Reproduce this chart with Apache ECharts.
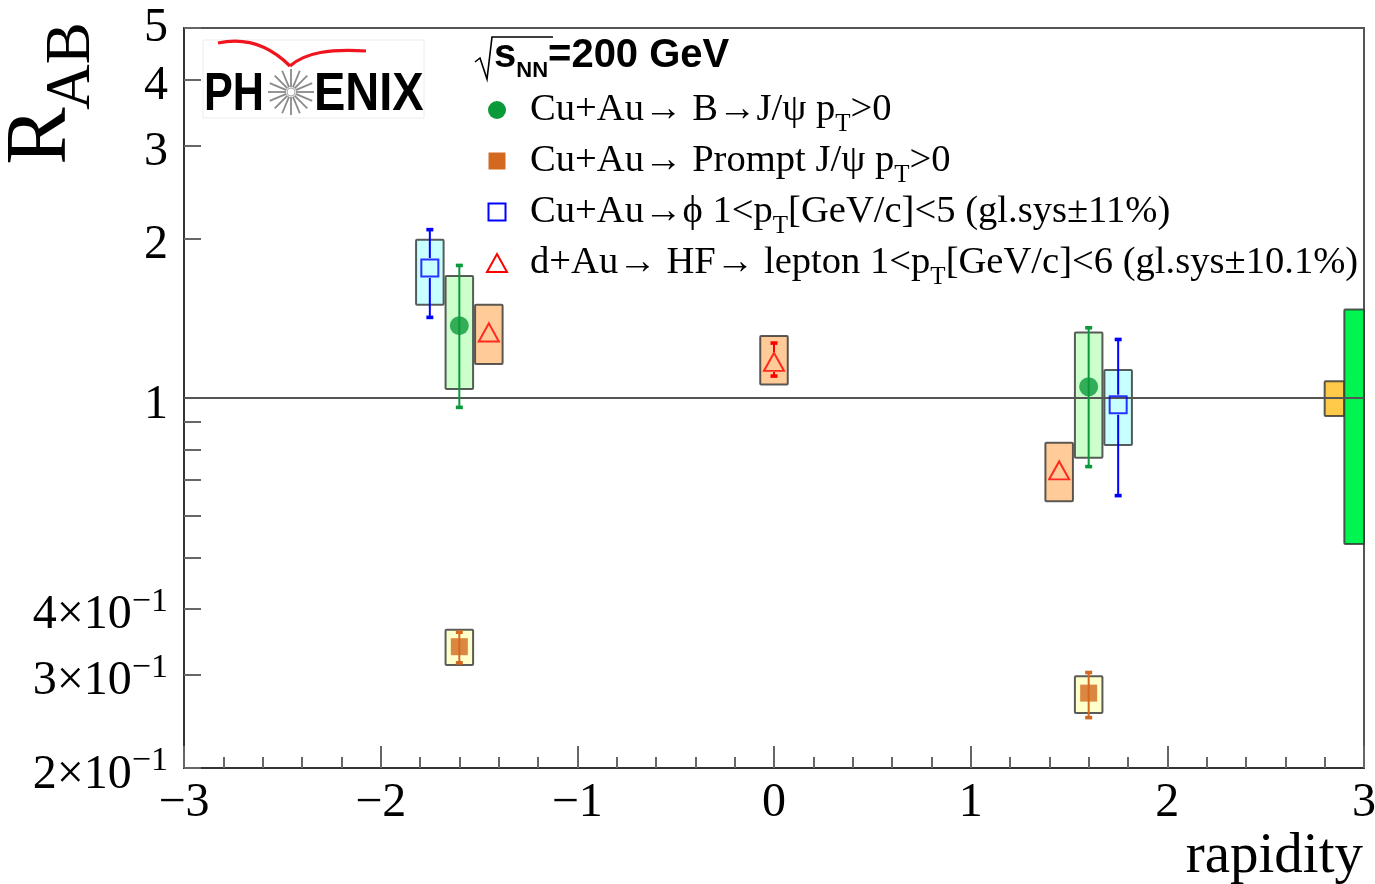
<!DOCTYPE html>
<html>
<head>
<meta charset="utf-8">
<script src="https://cdn.jsdelivr.net/npm/echarts@6/dist/echarts.min.js"></script>
<style>
  html, body { margin: 0; padding: 0; background: #fff; }
  #chart { width: 1375px; height: 884px; }
</style>
</head>
<body>
<div id="chart"></div>
<script>
// ---- Data: nuclear modification factor R_AB versus rapidity ----

// Cu+Au -> B -> J/psi, pT > 0
const bjpsiRapidity = [-1.6, 1.6];
const bjpsiRAB      = [1.37, 1.05];
const bjpsiStatLow  = [0.96, 0.742];
const bjpsiStatHigh = [1.78, 1.357];
const bjpsiSysLow   = [1.04, 0.771];
const bjpsiSysHigh  = [1.70, 1.33];

// Cu+Au -> prompt J/psi, pT > 0
const promptRapidity = [-1.6, 1.6];
const promptRAB      = [0.339, 0.277];
const promptStatLow  = [0.316, 0.249];
const promptStatHigh = [0.361, 0.303];
const promptSysLow   = [0.313, 0.254];
const promptSysHigh  = [0.365, 0.298];

// Cu+Au -> phi, 1 < pT < 5 GeV/c
const phiRapidity = [-1.75, 1.75];
const phiRAB      = [1.76, 0.971];
const phiStatLow  = [1.42, 0.654];
const phiStatHigh = [2.08, 1.29];
const phiSysLow   = [1.50, 0.815];
const phiSysHigh  = [1.99, 1.129];

// d+Au -> heavy flavour -> lepton, 1 < pT < 6 GeV/c
const hfRapidity = [-1.45, 0, 1.45];
const hfRAB      = [1.33, 1.17, 0.73];
const hfStatLow  = [1.31, 1.10, 0.715];
const hfStatHigh = [1.35, 1.27, 0.745];
const hfSysLow   = [1.16, 1.06, 0.638];
const hfSysHigh  = [1.50, 1.31, 0.823];

// Global normalisation uncertainties drawn at the right edge
const globalSysRapidityLow  = [2.8, 2.9];
const globalSysRapidityHigh = [2.9, 3.0];
const globalSysLow          = [0.925, 0.53];
const globalSysHigh         = [1.075, 1.47];

// Reference line R_AB = 1
const unityRapidity = [-3, 3];
const unityRAB      = [1, 1];

// Axis ticks and labels
const Y_MIN = 0.2, Y_MAX = 5;
const yTickValues  = [0.2, 0.3, 0.4, 0.5, 0.6, 0.7, 0.8, 0.9, 1, 2, 3, 4, 5];
const yLabelValues = [0.2, 0.3, 0.4, 1, 2, 3, 4, 5];
const yLabelMain   = ['2×10', '3×10', '4×10', '1', '2', '3', '4', '5'];
const yLabelExp    = ['−1', '−1', '−1', '', '', '', '', ''];

// ---- Drawing ----
const SERIF = "'Liberation Serif', 'Times New Roman', serif";
const SANS = "'Liberation Sans', Arial, sans-serif";
const SYS_HALF_WIDTH = 0.07;   // half width of the systematic boxes, in rapidity units

const COLORS = {
  bjpsi: '#0a9a3a',
  prompt: '#d2691e',
  phi: '#0000ff',
  hf: '#ff0000'
};

function zipRows() {
  const cols = Array.prototype.slice.call(arguments);
  return cols[0].map((_, i) => cols.map(c => c[i]));
}

// keep edge ticks inside the floating-point axis extent
function insideExtent(v) {
  return Math.min(Math.max(v, Y_MIN * 1.000001), Y_MAX * 0.999999);
}

function sysBoxSeries(xs, lows, highs, fill) {
  return {
    type: 'custom',
    z: 2,
    silent: true,
    clip: false,
    encode: { x: 0, y: [1, 2] },
    data: zipRows(xs, lows, highs),
    renderItem: function (params, api) {
      const x = api.value(0);
      const p1 = api.coord([x - SYS_HALF_WIDTH, api.value(2)]);
      const p2 = api.coord([x + SYS_HALF_WIDTH, api.value(1)]);
      return {
        type: 'rect',
        shape: { x: p1[0], y: p1[1], width: p2[0] - p1[0], height: p2[1] - p1[1], r: 1 },
        style: { fill: fill, stroke: 'rgba(50,50,50,0.8)', lineWidth: 2 }
      };
    }
  };
}

function errorBarSeries(xs, ys, lows, highs, color, gap) {
  return {
    type: 'custom',
    z: 4,
    silent: true,
    clip: false,
    encode: { x: 0, y: [1, 2, 3] },
    data: zipRows(xs, ys, lows, highs),
    renderItem: function (params, api) {
      const x = api.value(0);
      const c = api.coord([x, api.value(1)]);
      const lo = api.coord([x, api.value(2)]);
      const hi = api.coord([x, api.value(3)]);
      const kids = [];
      const capW = 3.5, capH = 1.8;
      if (hi[1] < c[1] - gap) {
        kids.push({ type: 'line', shape: { x1: c[0], y1: hi[1], x2: c[0], y2: c[1] - gap },
                    style: { stroke: color, lineWidth: 2 } });
        kids.push({ type: 'rect', shape: { x: c[0] - capW, y: hi[1] - capH, width: 2 * capW, height: 2 * capH },
                    style: { fill: color } });
      }
      if (lo[1] > c[1] + gap) {
        kids.push({ type: 'line', shape: { x1: c[0], y1: c[1] + gap, x2: c[0], y2: lo[1] },
                    style: { stroke: color, lineWidth: 2 } });
        kids.push({ type: 'rect', shape: { x: c[0] - capW, y: lo[1] - capH, width: 2 * capW, height: 2 * capH },
                    style: { fill: color } });
      }
      return { type: 'group', children: kids };
    }
  };
}

const globalFills = ['#ffc94a', '#00f550'];
const globalSys = {
  type: 'custom',
  z: 2,
  silent: true,
  clip: false,
  encode: { x: [0, 1], y: [2, 3] },
  data: zipRows(globalSysRapidityLow, globalSysRapidityHigh, globalSysLow, globalSysHigh),
  renderItem: function (params, api) {
    const p1 = api.coord([api.value(0), api.value(3)]);
    const p2 = api.coord([api.value(1), api.value(2)]);
    return {
      type: 'rect',
      shape: { x: p1[0], y: p1[1], width: p2[0] - p1[0], height: p2[1] - p1[1], r: 1 },
      style: { fill: globalFills[params.dataIndex], stroke: 'rgba(50,50,50,0.8)', lineWidth: 2 }
    };
  }
};

// y tick label: mantissa (dropped slightly) plus raised exponent; the tiny
// 'z' token only sets the line box height so the two can be offset.
// The top label sits flush with the frame, so it gets no drop.
function yLabel(v) {
  let idx = -1;
  yLabelValues.forEach((lv, i) => { if (Math.abs(lv - v) < 1e-4 * lv) idx = i; });
  if (idx < 0) return '';
  const exp = yLabelExp[idx];
  const spacer = idx === yLabelValues.length - 1 ? '{zt| }' : '{z| }';
  return spacer + '{m|' + yLabelMain[idx] + '}' + (exp ? '{s|' + exp + '}' : '');
}

const tickStyle = { color: '#666', width: 2 };

// Legend text with p_T subscripts
const legendRows = [
  { pre: 'Cu+Au→ B→J/ψ p', post: '>0' },
  { pre: 'Cu+Au→ Prompt J/ψ p', post: '>0' },
  { pre: 'Cu+Au→ϕ 1<p', post: '[GeV/c]<5 (gl.sys±11%)' },
  { pre: 'd+Au→ HF→ lepton 1<p', post: '[GeV/c]<6 (gl.sys±10.1%)' }
];
const legendRowY = [110, 161, 212, 263];
const legendMarkerX = 497;
const legendTextX = 530;

const legendRich = {
  t: { fontFamily: SERIF, fontSize: 38.6, lineHeight: 52, verticalAlign: 'middle', fill: '#000' },
  u: { fontFamily: SERIF, fontSize: 25, lineHeight: 24, padding: [28, 0, 0, 0], verticalAlign: 'top', fill: '#000' }
};

const legendGraphics = [];
legendRows.forEach((row, i) => {
  legendGraphics.push({
    type: 'text',
    x: legendTextX,
    y: legendRowY[i],
    style: {
      text: '{t|' + row.pre + '}{u|T}{t|' + row.post + '}',
      rich: legendRich,
      textAlign: 'left',
      textVerticalAlign: 'middle'
    }
  });
});
legendGraphics.push(
  { type: 'circle', shape: { cx: legendMarkerX, cy: legendRowY[0], r: 9 }, style: { fill: COLORS.bjpsi } },
  { type: 'rect', shape: { x: legendMarkerX - 8.5, y: legendRowY[1] - 8.5, width: 17, height: 17 }, style: { fill: COLORS.prompt } },
  { type: 'rect', shape: { x: legendMarkerX - 8.5, y: legendRowY[2] - 8.5, width: 17, height: 17 }, style: { fill: 'none', stroke: COLORS.phi, lineWidth: 2 } },
  { type: 'polygon', shape: { points: [[legendMarkerX, legendRowY[3] - 9], [legendMarkerX + 10, legendRowY[3] + 9], [legendMarkerX - 10, legendRowY[3] + 9]] },
    style: { fill: 'none', stroke: COLORS.hf, lineWidth: 2 } }
);

// Collision energy header: radical sign with overline, then text
const headerGraphics = [
  { type: 'polyline', shape: { points: [[475, 62], [480, 58], [487, 79], [492, 37], [553, 37]] },
    style: { stroke: '#000', lineWidth: 1.6, fill: null } },
  { type: 'text', x: 494, y: 56,
    style: {
      text: '{b|s}{n|NN}{b|=200 GeV}',
      textAlign: 'left', textVerticalAlign: 'middle',
      rich: {
        b: { fontFamily: SANS, fontWeight: 'bold', fontSize: 40, lineHeight: 46, verticalAlign: 'middle', fill: '#000' },
        n: { fontFamily: SANS, fontWeight: 'bold', fontSize: 22, lineHeight: 22, padding: [27, 0, 0, 0], verticalAlign: 'top', fill: '#000' }
      }
    } }
];

// Experiment logo
const starCx = 291, starCy = 92;
const starRays = [];
for (let k = 0; k < 16; k++) {
  const a = k * Math.PI / 8;
  starRays.push({ type: 'line',
    shape: { x1: starCx + 5 * Math.cos(a), y1: starCy + 5 * Math.sin(a), x2: starCx + 23 * Math.cos(a), y2: starCy + 23 * Math.sin(a) },
    style: { stroke: '#8a8a8a', lineWidth: 1.8 } });
}
const logoGraphics = [
  { type: 'rect', shape: { x: 203, y: 40, width: 221, height: 78 }, style: { fill: '#fff', stroke: '#ececec', lineWidth: 1 } },
  { type: 'bezierCurve', shape: { x1: 218, y1: 43, cpx1: 250, cpy1: 36, cpx2: 274, cpy2: 50, x2: 290, y2: 66 },
    style: { stroke: '#f0141e', lineWidth: 3.2, fill: null } },
  { type: 'bezierCurve', shape: { x1: 290, y1: 66, cpx1: 306, cpy1: 52, cpx2: 330, cpy2: 49, x2: 366, y2: 51 },
    style: { stroke: '#f0141e', lineWidth: 3.2, fill: null } },
  { type: 'text', x: 204, y: 95, scaleX: 0.8,
    style: { text: 'PH', font: 'bold 54px ' + SANS, fill: '#000', textAlign: 'left', textVerticalAlign: 'middle' } },
  { type: 'text', x: 314, y: 95, scaleX: 0.87,
    style: { text: 'ENIX', font: 'bold 54px ' + SANS, fill: '#000', textAlign: 'left', textVerticalAlign: 'middle' } },
  { type: 'circle', shape: { cx: starCx, cy: starCy, r: 4 }, style: { fill: '#fff', stroke: '#aaa', lineWidth: 1 } }
].concat(starRays);

// Axis titles
const titleGraphics = [
  { type: 'text', x: 42, y: 136, rotation: Math.PI / 2,
    style: { text: 'R', font: '86px ' + SERIF, fill: '#000', textAlign: 'center', textVerticalAlign: 'middle' } },
  { type: 'text', x: 72, y: 66, rotation: Math.PI / 2,
    style: { text: 'AB', font: '63px ' + SERIF, fill: '#000', textAlign: 'center', textVerticalAlign: 'middle' } },
  { type: 'text', x: 1363, y: 857,
    style: { text: 'rapidity', font: '57px ' + SERIF, fill: '#000', textAlign: 'right', textVerticalAlign: 'middle' } }
];

const chart = echarts.init(document.getElementById('chart'), null, { renderer: 'canvas' });

chart.setOption({
  backgroundColor: '#fff',
  animation: false,
  grid: {
    left: 184, right: 11, top: 28, bottom: 116,
    outerBoundsMode: 'none',
    show: true, borderColor: '#555', borderWidth: 2, backgroundColor: 'transparent'
  },
  xAxis: {
    type: 'value',
    min: -3, max: 3, interval: 1,
    axisLine: { show: true, onZero: false, lineStyle: { color: '#333', width: 2 } },
    axisTick: { show: true, inside: true, length: 22, lineStyle: tickStyle },
    minorTick: { show: true, splitNumber: 5, length: 11, lineStyle: tickStyle },
    splitLine: { show: false },
    axisLabel: {
      margin: 11,
      fontFamily: SERIF, fontSize: 48, color: '#000',
      formatter: v => (v < 0 ? '−' + (-v) : String(v))
    }
  },
  yAxis: {
    type: 'log',
    logBase: 10,
    min: Y_MIN, max: Y_MAX,
    axisLine: { show: true, onZero: false, lineStyle: { color: '#333', width: 2 } },
    axisTick: { show: true, inside: true, length: 17, lineStyle: tickStyle, customValues: yTickValues.map(insideExtent) },
    minorTick: { show: false },
    splitLine: { show: false },
    axisLabel: {
      margin: 16,
      showMinLabel: true,
      showMaxLabel: true,
      hideOverlap: false,
      customValues: yLabelValues.map(insideExtent),
      formatter: yLabel,
      rich: {
        z: { fontFamily: SERIF, fontSize: 1, lineHeight: 62, color: '#000' },
        zt: { fontFamily: SERIF, fontSize: 1, lineHeight: 48, color: '#000' },
        m: { fontFamily: SERIF, fontSize: 48, lineHeight: 48, verticalAlign: 'bottom', color: '#000' },
        s: { fontFamily: SERIF, fontSize: 34, lineHeight: 34, padding: [7, 0, 0, 0], verticalAlign: 'top', color: '#000' }
      }
    }
  },
  graphic: [].concat(logoGraphics, headerGraphics, legendGraphics, titleGraphics),
  series: [
    sysBoxSeries(phiRapidity, phiSysLow, phiSysHigh, '#c8ffff'),
    sysBoxSeries(bjpsiRapidity, bjpsiSysLow, bjpsiSysHigh, '#ccffcc'),
    sysBoxSeries(hfRapidity, hfSysLow, hfSysHigh, '#ffcc99'),
    sysBoxSeries(promptRapidity, promptSysLow, promptSysHigh, '#ffffcc'),
    globalSys,
    {
      type: 'line', z: 3, silent: true, symbol: 'none',
      data: zipRows(unityRapidity, unityRAB),
      lineStyle: { color: '#555', width: 2 }
    },
    errorBarSeries(phiRapidity, phiRAB, phiStatLow, phiStatHigh, COLORS.phi, 10),
    errorBarSeries(bjpsiRapidity, bjpsiRAB, bjpsiStatLow, bjpsiStatHigh, COLORS.bjpsi, 0),
    errorBarSeries(hfRapidity, hfRAB, hfStatLow, hfStatHigh, COLORS.hf, 10),
    errorBarSeries(promptRapidity, promptRAB, promptStatLow, promptStatHigh, COLORS.prompt, 0),
    {
      name: 'Cu+Au→ B→J/ψ', type: 'scatter', z: 5, silent: true,
      symbol: 'circle', symbolSize: 19,
      itemStyle: { color: COLORS.bjpsi },
      data: zipRows(bjpsiRapidity, bjpsiRAB)
    },
    {
      name: 'Cu+Au→ Prompt J/ψ', type: 'scatter', z: 5, silent: true,
      symbol: 'rect', symbolSize: 17,
      itemStyle: { color: COLORS.prompt },
      data: zipRows(promptRapidity, promptRAB)
    },
    {
      name: 'Cu+Au→ϕ', type: 'scatter', z: 5, silent: true,
      symbol: 'rect', symbolSize: 17,
      itemStyle: { color: 'rgba(0,0,0,0)', borderColor: COLORS.phi, borderWidth: 2 },
      data: zipRows(phiRapidity, phiRAB)
    },
    {
      name: 'd+Au→ HF→ lepton', type: 'scatter', z: 5, silent: true,
      symbol: 'triangle', symbolSize: [20, 18],
      itemStyle: { color: 'rgba(0,0,0,0)', borderColor: COLORS.hf, borderWidth: 2 },
      data: zipRows(hfRapidity, hfRAB)
    }
  ]
});
</script>
</body>
</html>
